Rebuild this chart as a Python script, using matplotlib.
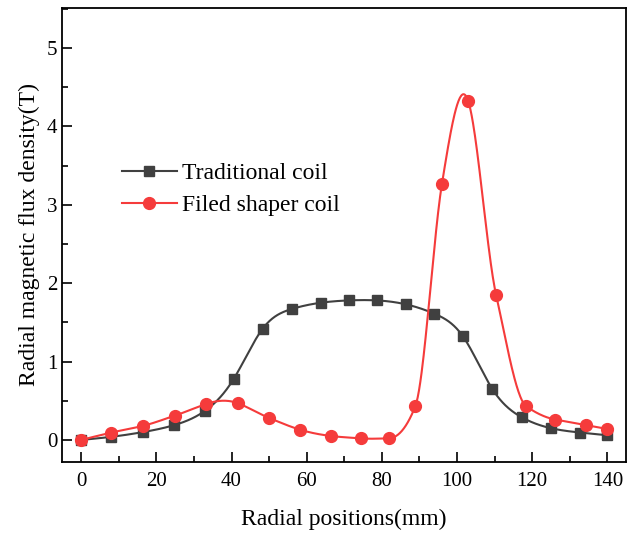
import numpy as np
import matplotlib
matplotlib.use("Agg")
import matplotlib.pyplot as plt
from matplotlib.ticker import MultipleLocator

# Data
trad_x = [0, 8.0, 16.4, 24.8, 32.9, 40.6, 48.3, 56.0, 63.7, 71.2, 78.7, 86.4,
          94.0, 101.6, 109.4, 117.2, 125.0, 132.7, 140.0]
trad_y = [0.0, 0.04, 0.10, 0.19, 0.37, 0.78, 1.42, 1.67, 1.75, 1.78, 1.78, 1.73,
          1.61, 1.32, 0.65, 0.29, 0.15, 0.095, 0.06]
shaper_x = [0, 8.0, 16.5, 24.9, 33.3, 41.6, 50.0, 58.3, 66.6, 74.4, 81.8, 88.9,
            96.0, 103.0, 110.4, 118.4, 126.2, 134.2, 140.0]
shaper_y = [0.0, 0.094, 0.18, 0.31, 0.46, 0.47, 0.28, 0.13, 0.05, 0.02, 0.02, 0.43,
            3.27, 4.32, 1.85, 0.43, 0.26, 0.19, 0.14]
labels = ["Traditional coil", "Filed shaper coil"]
x_ticks = [0, 20, 40, 60, 80, 100, 120, 140]
y_ticks = [0, 1, 2, 3, 4, 5]


def natural_spline(x, y, n=800):
    x = np.asarray(x, float)
    y = np.asarray(y, float)
    k = len(x)
    h = np.diff(x)
    A = np.zeros((k, k))
    b = np.zeros(k)
    A[0, 0] = 1
    A[-1, -1] = 1
    for i in range(1, k - 1):
        A[i, i - 1] = h[i - 1]
        A[i, i] = 2 * (h[i - 1] + h[i])
        A[i, i + 1] = h[i]
        b[i] = 6 * ((y[i + 1] - y[i]) / h[i] - (y[i] - y[i - 1]) / h[i - 1])
    M = np.linalg.solve(A, b)
    xs = np.linspace(x[0], x[-1], n)
    idx = np.clip(np.searchsorted(x, xs) - 1, 0, k - 2)
    x0, x1 = x[idx], x[idx + 1]
    hh = x1 - x0
    t0 = x1 - xs
    t1 = xs - x0
    ys = (M[idx] * t0 ** 3 / (6 * hh) + M[idx + 1] * t1 ** 3 / (6 * hh)
          + (y[idx] / hh - M[idx] * hh / 6) * t0
          + (y[idx + 1] / hh - M[idx + 1] * hh / 6) * t1)
    return xs, ys


def akima(x, y, n=800):
    x = np.asarray(x, float)
    y = np.asarray(y, float)
    k = len(x)
    m = np.diff(y) / np.diff(x)
    mm = np.empty(k + 3)
    mm[2:k + 1] = m
    mm[1] = 2 * mm[2] - mm[3]
    mm[0] = 2 * mm[1] - mm[2]
    mm[k + 1] = 2 * mm[k] - mm[k - 1]
    mm[k + 2] = 2 * mm[k + 1] - mm[k]
    t = np.empty(k)
    for i in range(k):
        m0, m1, m2, m3 = mm[i], mm[i + 1], mm[i + 2], mm[i + 3]
        w1 = abs(m3 - m2)
        w2 = abs(m1 - m0)
        if w1 + w2 < 1e-12:
            t[i] = 0.5 * (m1 + m2)
        else:
            t[i] = (w1 * m1 + w2 * m2) / (w1 + w2)
    xs = np.linspace(x[0], x[-1], n)
    idx = np.clip(np.searchsorted(x, xs) - 1, 0, k - 2)
    h = x[idx + 1] - x[idx]
    s = (xs - x[idx]) / h
    h00 = 2 * s ** 3 - 3 * s ** 2 + 1
    h10 = s ** 3 - 2 * s ** 2 + s
    h01 = -2 * s ** 3 + 3 * s ** 2
    h11 = s ** 3 - s ** 2
    ys = h00 * y[idx] + h10 * h * t[idx] + h01 * y[idx + 1] + h11 * h * t[idx + 1]
    return xs, ys


plt.rcParams['font.family'] = ['Liberation Serif', 'DejaVu Serif']

fig = plt.figure(figsize=(6.36, 5.34), dpi=100)
ax = fig.add_axes([0.0975, 0.135, 0.887, 0.85])

gray = '#404040'
red = '#f53b3b'

sx, sy = natural_spline(trad_x, trad_y)
ax.plot(sx, sy, color=gray, lw=1.5, zorder=2)
ax.plot(trad_x, trad_y, ls='none', marker='s', ms=7.5, color=gray, zorder=3)
ax.plot([], [], color=gray, lw=1.5, marker='s', ms=7.5, label=labels[0])

rx, ry = akima(shaper_x, shaper_y)
ax.plot(rx, ry, color=red, lw=1.5, zorder=4)
ax.plot(shaper_x, shaper_y, ls='none', marker='o', ms=8.5, color=red, zorder=5)
ax.plot([], [], color=red, lw=1.5, marker='o', ms=8.5, label=labels[1])

ax.set_xlim(-5.1, 145)
ax.set_ylim(-0.28, 5.51)
ax.set_xticks(x_ticks)
ax.set_yticks(y_ticks)
ax.xaxis.set_minor_locator(MultipleLocator(10))
ax.yaxis.set_minor_locator(MultipleLocator(0.5))
ax.tick_params(which='both', direction='in', top=False, right=False,
               labelsize=15, width=1.2, colors='black')
ax.tick_params(which='major', length=7.5)
ax.tick_params(which='minor', length=4.5)
ax.tick_params(axis='x', pad=7)
for s in ax.spines.values():
    s.set_linewidth(1.3)

ax.set_xlabel("Radial positions(mm)", fontsize=17, labelpad=13)
ax.set_ylabel("Radial magnetic flux density(T)", fontsize=17, labelpad=5)

ax.legend(loc='upper left', bbox_to_anchor=(0.09, 0.68), frameon=False,
          fontsize=17, handlelength=2.3, handletextpad=0.25, labelspacing=0.45,
          borderaxespad=0)

fig.savefig("out.png", dpi=100)
